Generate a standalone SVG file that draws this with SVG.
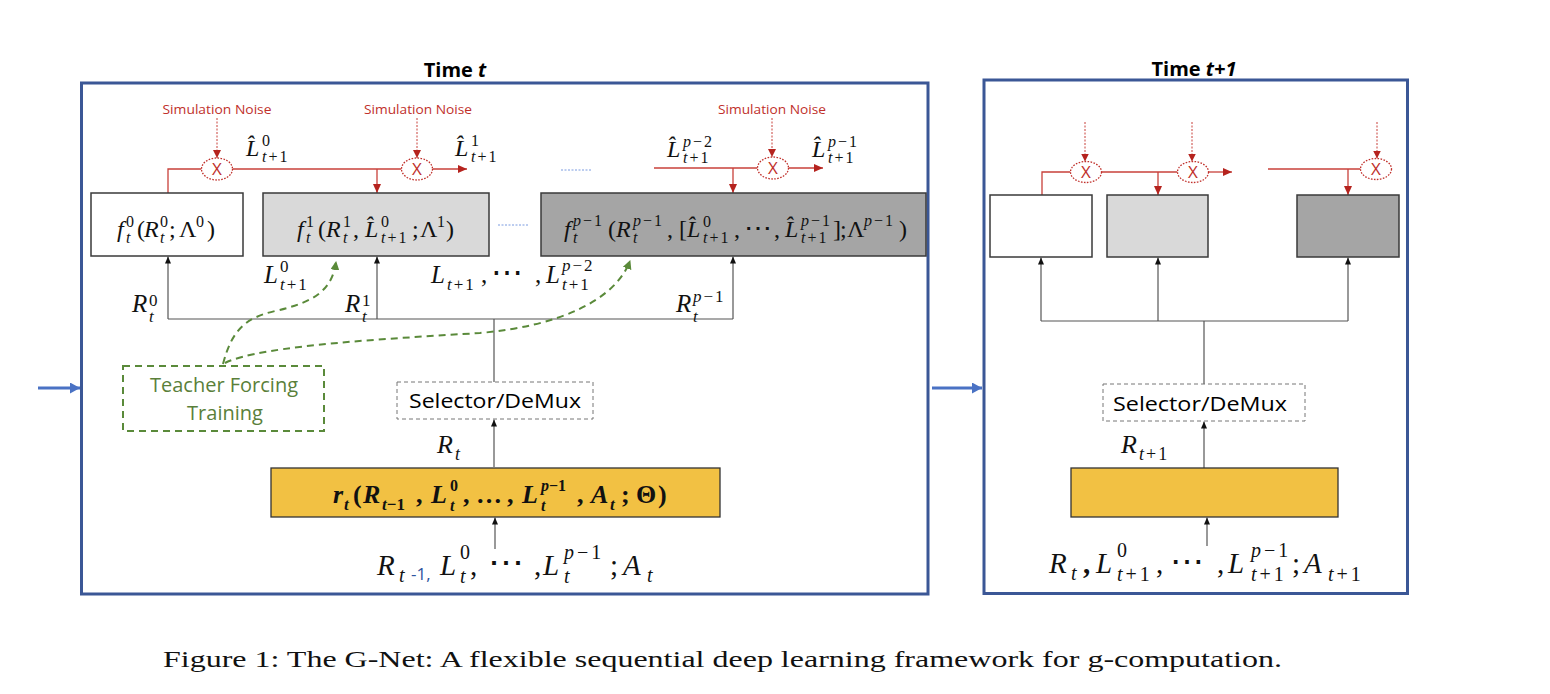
<svg xmlns="http://www.w3.org/2000/svg" width="1550" height="694" viewBox="0 0 1550 694">
<defs>
<style>
.frame{fill:none;stroke:#3b5796;stroke-width:3}
.title{font-family:"Open Sans","Liberation Sans",sans-serif;font-weight:bold;font-size:20px;fill:#000}
.box{stroke:#3a3a3a;stroke-width:1.5}
.sel{fill:#fff;stroke:#777;stroke-width:1;stroke-dasharray:4 3}
.seltxt{font-family:"Open Sans","Liberation Sans",sans-serif;font-size:20px;fill:#000}
.yel{fill:#f2c143;stroke:#333;stroke-width:1.3}
.tf{fill:none;stroke:#5a8a3a;stroke-width:2;stroke-dasharray:7 5}
.tftxt{font-family:"Open Sans","Liberation Sans",sans-serif;font-size:20px;fill:#5a7f3a}
.noise{font-family:"Open Sans","Liberation Sans",sans-serif;font-size:13px;fill:#c0302b}
.red{fill:none;stroke:#c8403a;stroke-width:1.3}
.redd{fill:none;stroke:#c8403a;stroke-width:1;stroke-dasharray:2 1.5}
.ell{fill:#fff;stroke:#c0302b;stroke-width:1.3;stroke-dasharray:1.6 1.4}
.xt{font-family:"Open Sans","Liberation Sans",sans-serif;font-size:17px;fill:#c0302b;text-anchor:middle}
.blk{fill:none;stroke:#555;stroke-width:1.2}
.blue{fill:none;stroke:#4a72c4;stroke-width:3}
.dots{fill:none;stroke:#7a9be0;stroke-width:1;stroke-dasharray:2 1.5}
.m{font-family:"Liberation Serif","DejaVu Serif",serif;fill:#111}
.i{font-style:italic}
.n{font-style:normal}
.b{font-weight:bold;font-style:italic}
.l2{letter-spacing:2px}
.l3{letter-spacing:3px}
.cap{font-family:"Liberation Serif","DejaVu Serif",serif;font-size:23px;fill:#111}
</style>
<marker id="aR" markerWidth="9" markerHeight="8" refX="9" refY="4" orient="auto" markerUnits="userSpaceOnUse"><path d="M0,0 L9,4 L0,8 z" fill="#b5231e"/></marker>
<marker id="aRs" markerWidth="8" markerHeight="8" refX="8" refY="4" orient="auto" markerUnits="userSpaceOnUse"><path d="M0,0 L8,4 L0,8 z" fill="#b5231e"/></marker>
<marker id="aK" markerWidth="7" markerHeight="6" refX="7" refY="3" orient="auto" markerUnits="userSpaceOnUse"><path d="M0,0 L7,3 L0,6 z" fill="#111"/></marker>
<marker id="aG" markerWidth="9" markerHeight="9" refX="8" refY="4.5" orient="auto" markerUnits="userSpaceOnUse"><path d="M0,0 L9,4.5 L0,9 z" fill="#5a8a3a"/></marker>
<marker id="aB" markerWidth="10" markerHeight="11" refX="10" refY="5.5" orient="auto" markerUnits="userSpaceOnUse"><path d="M0,0 L10,5.5 L0,11 z" fill="#4a72c4"/></marker>
</defs>
<rect width="1550" height="694" fill="#fff"/>

<g id="frame-t">
<rect class="frame" x="81.5" y="83" width="846.5" height="511"/>
<text class="title" x="455" y="77" text-anchor="middle">Time <tspan font-style="italic">t</tspan></text>
</g>
<g id="frame-t1">
<rect class="frame" x="984" y="80" width="423.5" height="513.5"/>
<text class="title" x="1194" y="76" text-anchor="middle">Time <tspan font-style="italic">t+1</tspan></text>
</g>

<g id="connectors">
<line class="blue" x1="38" y1="388" x2="80" y2="388" marker-end="url(#aB)"/>
<line class="blue" x1="932" y1="388" x2="982" y2="388" marker-end="url(#aB)"/>
<polyline class="red" points="168,193 168,169 201.5,169"/>
<line class="red" x1="232.5" y1="169" x2="401.5" y2="169"/>
<line class="red" x1="377" y1="169" x2="377" y2="193" marker-end="url(#aR)"/>
<line class="red" x1="432.5" y1="169" x2="467" y2="169" marker-end="url(#aR)"/>
<line class="redd" x1="217" y1="118" x2="217" y2="158" marker-end="url(#aRs)"/>
<line class="redd" x1="417" y1="118" x2="417" y2="158" marker-end="url(#aRs)"/>
<line class="red" x1="654" y1="168" x2="757.5" y2="168"/>
<line class="red" x1="733" y1="168" x2="733" y2="193" marker-end="url(#aR)"/>
<line class="red" x1="788.5" y1="168" x2="823" y2="168" marker-end="url(#aR)"/>
<line class="redd" x1="772" y1="118" x2="772" y2="157" marker-end="url(#aRs)"/>
<polyline class="red" points="1042,195 1042,172 1070.5,172"/>
<line class="red" x1="1101.5" y1="172" x2="1177.5" y2="172"/>
<line class="red" x1="1158" y1="172" x2="1158" y2="195" marker-end="url(#aR)"/>
<line class="red" x1="1208.5" y1="172" x2="1232" y2="172" marker-end="url(#aR)"/>
<line class="red" x1="1268" y1="169" x2="1360.5" y2="169"/>
<line class="red" x1="1348" y1="169" x2="1348" y2="195" marker-end="url(#aR)"/>
<line class="redd" x1="1085" y1="122" x2="1085" y2="161.5" marker-end="url(#aRs)"/>
<line class="redd" x1="1192" y1="122" x2="1192" y2="161.5" marker-end="url(#aRs)"/>
<line class="redd" x1="1377" y1="122" x2="1377" y2="158.5" marker-end="url(#aRs)"/>
<line class="dots" x1="498" y1="225" x2="529" y2="225"/>
<line class="dots" x1="561" y1="170" x2="592" y2="170"/>
<line class="blk" x1="168" y1="319" x2="168" y2="256.5" marker-end="url(#aK)"/>
<line class="blk" x1="377" y1="319" x2="377" y2="256.5" marker-end="url(#aK)"/>
<line class="blk" x1="733" y1="319" x2="733" y2="256.5" marker-end="url(#aK)"/>
<line class="blk" x1="168" y1="319" x2="733" y2="319"/>
<line class="blk" x1="494" y1="319" x2="494" y2="382"/>
<line class="blk" x1="494" y1="467" x2="494" y2="419.5" marker-end="url(#aK)"/>
<line class="blk" x1="495" y1="549" x2="495" y2="517.5" marker-end="url(#aK)"/>
<line class="blk" x1="1041" y1="321" x2="1041" y2="257.5" marker-end="url(#aK)"/>
<line class="blk" x1="1158" y1="321" x2="1158" y2="257.5" marker-end="url(#aK)"/>
<line class="blk" x1="1348" y1="321" x2="1348" y2="257.5" marker-end="url(#aK)"/>
<line class="blk" x1="1041" y1="321" x2="1348" y2="321"/>
<line class="blk" x1="1204" y1="321" x2="1204" y2="384"/>
<line class="blk" x1="1204" y1="468" x2="1204" y2="421.5" marker-end="url(#aK)"/>
<line class="blk" x1="1207" y1="546" x2="1207" y2="517.5" marker-end="url(#aK)"/>
<path class="tf" d="M223,364 C232,330 245,318 275,311 C315,302 332,290 336,262" marker-end="url(#aG)"/>
<path class="tf" d="M225,363 C260,345 400,338 480,333 C560,326 615,300 630,261" marker-end="url(#aG)"/>
</g>

<g id="noise-1">
<text class="noise" x="217" y="114" text-anchor="middle" textLength="109" lengthAdjust="spacingAndGlyphs">Simulation Noise</text>
<ellipse class="ell" cx="217" cy="169" rx="15.5" ry="11"/>
<text class="xt" x="217" y="175">X</text>
</g>
<g id="noise-2">
<text class="noise" x="418" y="114" text-anchor="middle" textLength="108" lengthAdjust="spacingAndGlyphs">Simulation Noise</text>
<ellipse class="ell" cx="417" cy="169" rx="15.5" ry="11"/>
<text class="xt" x="417" y="175">X</text>
</g>
<g id="noise-3">
<text class="noise" x="772" y="114" text-anchor="middle" textLength="108" lengthAdjust="spacingAndGlyphs">Simulation Noise</text>
<ellipse class="ell" cx="773" cy="168" rx="15.5" ry="11"/>
<text class="xt" x="773" y="174">X</text>
</g>

<g id="f0">
<rect class="box" x="91" y="193" width="152" height="63" fill="#fff"/>
<text class="m" font-size="24"><tspan class="i" x="117" y="237">f</tspan><tspan x="126" y="227" font-size="16">0</tspan><tspan class="i" x="126" y="243" font-size="16">t</tspan><tspan x="137" y="237">(</tspan><tspan class="i" x="144" y="237">R</tspan><tspan x="160" y="227" font-size="16">0</tspan><tspan class="i" x="160" y="243" font-size="16">t</tspan><tspan x="169" y="237">;</tspan><tspan x="179" y="237">Λ</tspan><tspan x="196" y="227" font-size="16">0</tspan><tspan x="207" y="237">)</tspan></text>
</g>
<g id="f1">
<rect class="box" x="263" y="193" width="226" height="63" fill="#d9d9d9"/>
<text class="m" font-size="24"><tspan class="i" x="297" y="237">f</tspan><tspan x="306" y="227" font-size="16">1</tspan><tspan class="i" x="306" y="243" font-size="16">t</tspan><tspan x="318" y="237">(</tspan><tspan class="i" x="326" y="237">R</tspan><tspan x="343" y="227" font-size="16">1</tspan><tspan class="i" x="343" y="243" font-size="16">t</tspan><tspan x="353" y="237">,</tspan><tspan class="i" x="365" y="237">L̂</tspan><tspan x="381" y="227" font-size="16">0</tspan><tspan class="l2" x="381" y="243" font-size="16"><tspan class="i">t</tspan>+1</tspan><tspan x="412" y="237">;</tspan><tspan x="420" y="237">Λ</tspan><tspan x="437" y="227" font-size="16">1</tspan><tspan x="446" y="237">)</tspan></text>
</g>
<g id="fp1">
<rect class="box" x="541" y="193" width="385" height="63" fill="#a5a5a5"/>
<text class="m" font-size="24"><tspan class="i" x="564" y="237">f</tspan><tspan class="l2" x="573" y="226" font-size="16"><tspan class="i">p</tspan>−1</tspan><tspan class="i" x="573" y="243" font-size="16">t</tspan><tspan x="608" y="237">(</tspan><tspan class="i" x="616" y="237">R</tspan><tspan class="l2" x="633" y="226" font-size="16"><tspan class="i">p</tspan>−1</tspan><tspan class="i" x="633" y="243" font-size="16">t</tspan><tspan x="667" y="237">,</tspan><tspan x="679" y="237">[</tspan><tspan class="i" x="687" y="237">L̂</tspan><tspan x="703" y="227" font-size="16">0</tspan><tspan class="l2" x="703" y="243" font-size="16"><tspan class="i">t</tspan>+1</tspan><tspan x="734" y="237">,</tspan><tspan x="744" y="237" font-size="28">⋯</tspan><tspan x="774" y="237">,</tspan><tspan class="i" x="785" y="237">L̂</tspan><tspan class="l2" x="801" y="226" font-size="16"><tspan class="i">p</tspan>−1</tspan><tspan class="l2" x="801" y="243" font-size="16"><tspan class="i">t</tspan>+1</tspan><tspan x="833" y="237">]</tspan><tspan x="840" y="237">;</tspan><tspan x="847" y="237">Λ</tspan><tspan class="l2" x="864" y="226" font-size="16"><tspan class="i">p</tspan>−1</tspan><tspan x="899" y="237">)</tspan></text>
</g>

<g id="teacher-forcing">
<rect class="tf" x="123" y="366" width="201" height="65"/>
<text class="tftxt" x="224" y="392" text-anchor="middle">Teacher Forcing</text>
<text class="tftxt" x="225" y="420" text-anchor="middle">Training</text>
</g>

<g id="selector-t">
<rect class="sel" x="397" y="382" width="196" height="37"/>
<text class="seltxt" x="495" y="408" text-anchor="middle" textLength="172" lengthAdjust="spacingAndGlyphs">Selector/DeMux</text>
</g>
<g id="rnn-t">
<rect class="yel" x="271" y="468" width="449" height="49"/>
<text class="m b" font-size="26"><tspan x="333" y="503">r</tspan><tspan x="344" y="510" font-size="17">t</tspan><tspan class="n" x="353" y="503">(</tspan><tspan x="363" y="503">R</tspan><tspan x="382" y="510" font-size="17">t<tspan class="n">−1</tspan></tspan><tspan class="n" x="416" y="503">,</tspan><tspan x="431" y="503">L</tspan><tspan class="n" x="450" y="491" font-size="16">0</tspan><tspan x="450" y="511" font-size="16">t</tspan><tspan class="n" x="463" y="503">,</tspan><tspan class="n" x="476" y="503">…</tspan><tspan class="n" x="507" y="503">,</tspan><tspan x="522" y="503">L</tspan><tspan x="541" y="491" font-size="16">p<tspan class="n">−1</tspan></tspan><tspan x="541" y="511" font-size="16">t</tspan><tspan class="n" x="577" y="503">,</tspan><tspan x="591" y="503">A</tspan><tspan x="610" y="510" font-size="17">t</tspan><tspan class="n" x="621" y="503">;</tspan><tspan class="n" x="636" y="503">Θ</tspan><tspan class="n" x="658" y="503">)</tspan></text>
</g>

<g id="box0-t1"><rect class="box" x="990" y="195" width="102" height="62" fill="#fff"/></g>
<g id="box1-t1"><rect class="box" x="1107" y="195" width="101" height="62" fill="#d9d9d9"/></g>
<g id="box2-t1"><rect class="box" x="1297" y="195" width="102" height="62" fill="#a5a5a5"/></g>
<g id="noise-t1">
<ellipse class="ell" cx="1086" cy="172" rx="15.5" ry="10.5"/><text class="xt" x="1086" y="178">X</text>
<ellipse class="ell" cx="1193" cy="172" rx="15.5" ry="10.5"/><text class="xt" x="1193" y="178">X</text>
<ellipse class="ell" cx="1376" cy="169" rx="15.5" ry="10.5"/><text class="xt" x="1376" y="175">X</text>
</g>
<g id="selector-t1">
<rect class="sel" x="1103" y="384" width="202" height="37"/>
<text class="seltxt" x="1200" y="411" text-anchor="middle" textLength="174" lengthAdjust="spacingAndGlyphs">Selector/DeMux</text>
</g>
<g id="rnn-t1"><rect class="yel" x="1071" y="468" width="267" height="49"/></g>

<g id="labels">
<text class="m" font-size="24"><tspan class="i" x="246" y="156">L̂</tspan><tspan x="262" y="146" font-size="16">0</tspan><tspan class="l2" x="262" y="162" font-size="16"><tspan class="i">t</tspan>+1</tspan></text>
<text class="m" font-size="24"><tspan class="i" x="455" y="156">L̂</tspan><tspan x="471" y="146" font-size="16">1</tspan><tspan class="l2" x="471" y="162" font-size="16"><tspan class="i">t</tspan>+1</tspan></text>
<text class="m" font-size="24"><tspan class="i" x="667" y="157">L̂</tspan><tspan class="l2" x="683" y="147" font-size="16"><tspan class="i">p</tspan>−2</tspan><tspan class="l2" x="683" y="163" font-size="16"><tspan class="i">t</tspan>+1</tspan></text>
<text class="m" font-size="24"><tspan class="i" x="812" y="157">L̂</tspan><tspan class="l2" x="828" y="147" font-size="16"><tspan class="i">p</tspan>−1</tspan><tspan class="l2" x="828" y="163" font-size="16"><tspan class="i">t</tspan>+1</tspan></text>
<text class="m" font-size="25"><tspan class="i" x="264" y="283">L</tspan><tspan x="280" y="272" font-size="17">0</tspan><tspan class="l2" x="280" y="290" font-size="17"><tspan class="i">t</tspan>+1</tspan></text>
<text class="m" font-size="25"><tspan class="i" x="431" y="283">L</tspan><tspan class="l2" x="447" y="290" font-size="17"><tspan class="i">t</tspan>+1</tspan><tspan x="481" y="283">,</tspan><tspan x="491" y="283" font-size="32">⋯</tspan><tspan x="535" y="283">,</tspan><tspan class="i" x="546" y="283">L</tspan><tspan class="l2" x="562" y="271" font-size="17"><tspan class="i">p</tspan>−2</tspan><tspan class="l2" x="562" y="290" font-size="17"><tspan class="i">t</tspan>+1</tspan></text>
<text class="m" font-size="25"><tspan class="i" x="132" y="312">R</tspan><tspan x="149" y="306" font-size="17">0</tspan><tspan class="i" x="149" y="322" font-size="17">t</tspan></text>
<text class="m" font-size="25"><tspan class="i" x="345" y="312">R</tspan><tspan x="362" y="306" font-size="17">1</tspan><tspan class="i" x="362" y="322" font-size="17">t</tspan></text>
<text class="m" font-size="25"><tspan class="i" x="676" y="312">R</tspan><tspan class="l2" x="693" y="302" font-size="17"><tspan class="i">p</tspan>−1</tspan><tspan class="i" x="693" y="322" font-size="17">t</tspan></text>
<text class="m" font-size="26"><tspan class="i" x="437" y="453">R</tspan><tspan class="i" x="455" y="460" font-size="18">t</tspan></text>
<text class="m" font-size="26"><tspan class="i" x="1121" y="453">R</tspan><tspan class="l2" x="1139" y="460" font-size="18"><tspan class="i">t</tspan>+1</tspan></text>
<text class="m" font-size="29"><tspan class="i" x="377" y="575">R</tspan><tspan class="i" x="399" y="582" font-size="20">t</tspan><tspan x="411" y="580" font-size="17" fill="#2f55a0" font-family="Open Sans, sans-serif">-1,</tspan><tspan class="i" x="440" y="575">L</tspan><tspan x="460" y="559" font-size="20">0</tspan><tspan class="i" x="460" y="583" font-size="20">t</tspan><tspan x="470" y="575">,</tspan><tspan x="488" y="575" font-size="36">⋯</tspan><tspan x="534" y="575">,</tspan><tspan class="i" x="543" y="575">L</tspan><tspan class="l3" x="564" y="559" font-size="20"><tspan class="i">p</tspan>−1</tspan><tspan class="i" x="564" y="583" font-size="20">t</tspan><tspan x="610" y="575">;</tspan><tspan class="i" x="623" y="575">A</tspan><tspan class="i" x="647" y="582" font-size="20">t</tspan></text>
<text class="m" font-size="29"><tspan class="i" x="1049" y="573">R</tspan><tspan class="i" x="1071" y="580" font-size="20">t</tspan><tspan x="1083" y="573" font-weight="bold">,</tspan><tspan class="i" x="1096" y="573">L</tspan><tspan x="1117" y="557" font-size="20">0</tspan><tspan class="l3" x="1117" y="581" font-size="20"><tspan class="i">t</tspan>+1</tspan><tspan x="1156" y="573">,</tspan><tspan x="1170" y="573" font-size="34">⋯</tspan><tspan x="1217" y="573">,</tspan><tspan class="i" x="1228" y="573">L</tspan><tspan class="l3" x="1251" y="557" font-size="20"><tspan class="i">p</tspan>−1</tspan><tspan class="l3" x="1251" y="581" font-size="20"><tspan class="i">t</tspan>+1</tspan><tspan x="1292" y="573">;</tspan><tspan class="i" x="1304" y="573">A</tspan><tspan class="l3" x="1328" y="581" font-size="20"><tspan class="i">t</tspan>+1</tspan></text>
</g>

<g id="caption">
<text class="cap" x="163" y="667" textLength="1119" lengthAdjust="spacingAndGlyphs">Figure 1: The G-Net: A flexible sequential deep learning framework for g-computation.</text>
</g>
</svg>
